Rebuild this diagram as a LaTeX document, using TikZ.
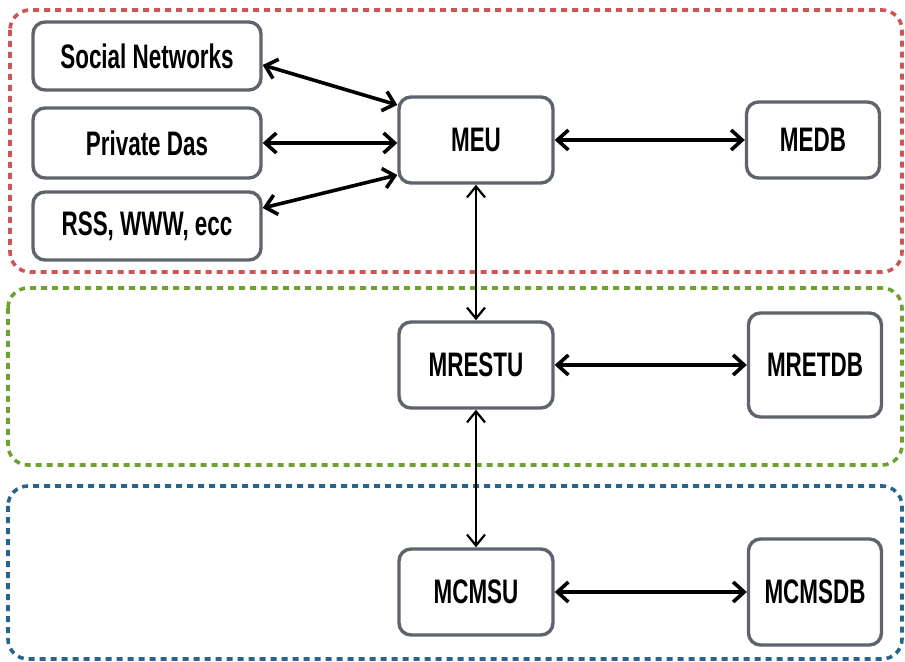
\documentclass[tikz,border=0pt]{standalone}
\usepackage{fontspec}
\newfontfamily\narrowsf[FakeStretch=0.66]{Liberation Sans}
\usetikzlibrary{arrows.meta}
\definecolor{zonered}{RGB}{205,85,85}
\definecolor{zonegreen}{RGB}{110,160,50}
\definecolor{zoneblue}{RGB}{40,100,140}
\definecolor{boxgray}{RGB}{95,100,108}
\begin{document}
\begin{tikzpicture}[x=0.5pt, y=-0.5pt,
    font=\narrowsf\bfseries\fontsize{17}{19}\selectfont,
    unit/.style={draw=boxgray, line width=1.7pt, rounded corners=6pt, fill=white, align=center},
    zone/.style={line width=1.8pt, rounded corners=10pt, dash pattern=on 3pt off 2.5pt},
    link/.style={line width=1.8pt, {Straight Barb[length=5.5pt,width=10pt]}-{Straight Barb[length=5.5pt,width=10pt]}},
    vlink/.style={line width=1.1pt, {Straight Barb[length=5.5pt,width=9pt]}-{Straight Barb[length=5.5pt,width=9pt]}}]
  \useasboundingbox (0,0) rectangle (905,662);
  % zone esterne (rosso / verde / blu)
  \draw[zone, zonered]   (10,10)  rectangle (902,272);
  \draw[zone, zonegreen] (8,288)  rectangle (902,465);
  \draw[zone, zoneblue]  (8,486)  rectangle (902,659);
  % sorgenti
  \node[unit, minimum width=114pt, minimum height=34pt] (sn)  at (147,56)  {Social Networks};
  \node[unit, minimum width=114pt, minimum height=35pt] (pd)  at (147,143) {Private Das};
  \node[unit, minimum width=114pt, minimum height=34pt] (rss) at (147,226) {RSS, WWW, ecc};
  % unita' e database
  \node[unit, minimum width=77pt, minimum height=43pt]   (meu)    at (476,140) {MEU};
  \node[unit, minimum width=66.5pt, minimum height=38pt] (medb)   at (813,140) {MEDB};
  \node[unit, minimum width=77pt, minimum height=43pt]   (mrestu) at (476,365) {MRESTU};
  \node[unit, minimum width=66.5pt, minimum height=52pt] (mretdb) at (815,365) {MRETDB};
  \node[unit, minimum width=77pt, minimum height=43pt]   (mcmsu)  at (476,592) {MCMSU};
  \node[unit, minimum width=66.5pt, minimum height=53pt] (mcmsdb) at (815,592) {MCMSDB};
  % collegamenti
  \draw[link] ([yshift=-4.5pt]sn.east) -- ([yshift=17.5pt]meu.west);
  \draw[link] (pd.east) -- (pd.east -| meu.west);
  \draw[link] ([yshift=9pt]rss.east) -- ([yshift=-17.5pt]meu.west);
  \draw[link] (meu) -- (medb);
  \draw[link] (mrestu) -- (mretdb);
  \draw[link] (mcmsu) -- (mcmsdb);
  \draw[vlink] (meu) -- (mrestu);
  \draw[vlink] (mrestu) -- (mcmsu);
\end{tikzpicture}
\end{document}
